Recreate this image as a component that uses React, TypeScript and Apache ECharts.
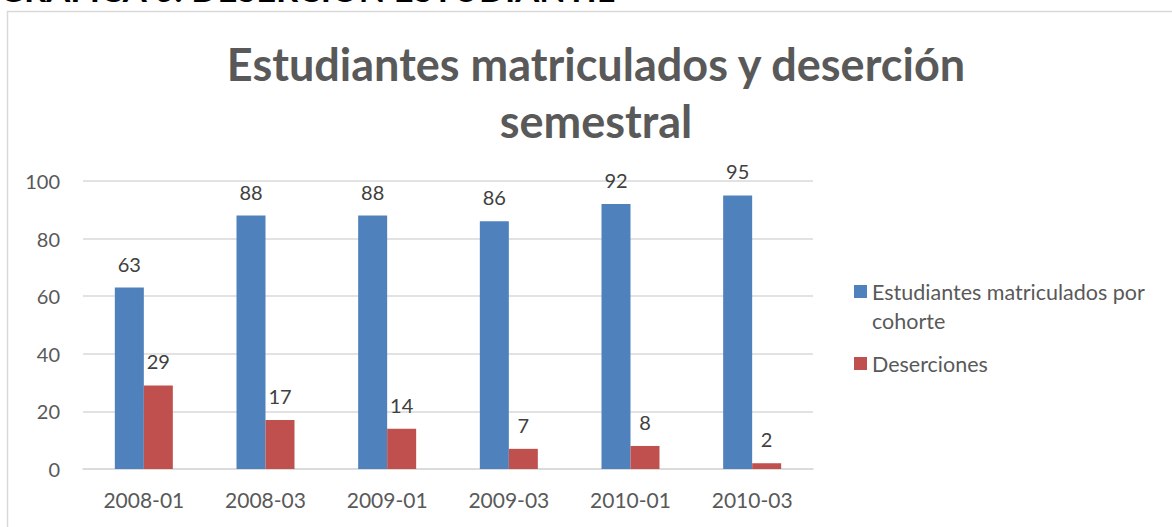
import React, { useEffect, useRef } from "react";
import * as echarts from "echarts";

const categories = ["2008-01", "2008-03", "2009-01", "2009-03", "2010-01", "2010-03"];
const matriculados = [63, 88, 88, 86, 92, 95];
const deserciones = [29, 17, 14, 7, 8, 2];
const seriesNames = ["Estudiantes matriculados por cohorte", "Deserciones"];
const titleText = "Estudiantes matriculados y deserción\nsemestral";
const headingText = "GRÁFICA 6: DESERCIÓN ESTUDIANTIL";

const FONT = "Lato, 'Open Sans', sans-serif";

export default function App() {
  const ref = useRef<HTMLDivElement>(null);
  useEffect(() => {
    if (!ref.current) return;
    const chart = echarts.init(ref.current, undefined, { renderer: "svg" });
    const labelStyle = {
      show: true,
      position: "top" as const,
      distance: 14,
      color: "#404040",
      fontSize: 20,
      fontFamily: FONT,
    };
    chart.setOption({
      animation: false,
      backgroundColor: "#ffffff",
      textStyle: { fontFamily: FONT },
      title: {
        text: titleText,
        left: 591,
        textAlign: "center",
        top: 30,
        textStyle: {
          fontSize: 45,
          fontWeight: "bold",
          color: "#595959",
          fontFamily: FONT,
          lineHeight: 57,
        },
      },
      graphic: [
        {
          type: "rect",
          shape: { x: 7.5, y: 11.5, width: 1300, height: 700 },
          style: { fill: "none", stroke: "#d9d9d9", lineWidth: 1.5 },
          silent: true,
        },
        {
          type: "text",
          x: -1,
          y: 6,
          style: {
            text: headingText,
            fill: "#000000",
            fontSize: 34.5,
            fontWeight: "bold",
            fontFamily: FONT,
            textVerticalAlign: "bottom",
          },
          silent: true,
        },
      ],
      legend: {
        orient: "vertical",
        left: 854,
        top: 248,
        padding: 0,
        itemWidth: 13,
        itemHeight: 13,
        itemGap: 14,
        icon: "rect",
        data: seriesNames,
        formatter: (name: string) =>
          name === seriesNames[0] ? " \nEstudiantes matriculados por\ncohorte" : name,
        textStyle: {
          fontSize: 21.5,
          color: "#595959",
          fontFamily: FONT,
          lineHeight: 29,
        },
      },
      grid: { left: 83, right: 359, top: 181, bottom: 58 },
      xAxis: {
        type: "category",
        data: categories,
        axisLine: { lineStyle: { color: "#d9d9d9", width: 1.5 } },
        axisTick: { show: false },
        axisLabel: { color: "#595959", fontSize: 21, margin: 20, fontFamily: FONT },
      },
      yAxis: {
        type: "value",
        min: 0,
        max: 100,
        interval: 20,
        axisLine: { show: false },
        axisTick: { show: false },
        axisLabel: { color: "#595959", fontSize: 20, margin: 23, fontFamily: FONT },
        splitLine: { lineStyle: { color: "#d9d9d9", width: 1.5 } },
      },
      series: [
        {
          name: seriesNames[0],
          type: "bar",
          data: matriculados,
          barWidth: 29,
          barGap: "0%",
          itemStyle: { color: "#4f81bd" },
          label: labelStyle,
        },
        {
          name: seriesNames[1],
          type: "bar",
          data: deserciones,
          barWidth: 29,
          barGap: "0%",
          itemStyle: { color: "#c0504d" },
          label: labelStyle,
        },
      ],
    });
    return () => chart.dispose();
  }, []);
  return (
    <div
      ref={ref}
      style={{ position: "fixed", left: 0, top: 0, width: 1172, height: 527 }}
    />
  );
}
